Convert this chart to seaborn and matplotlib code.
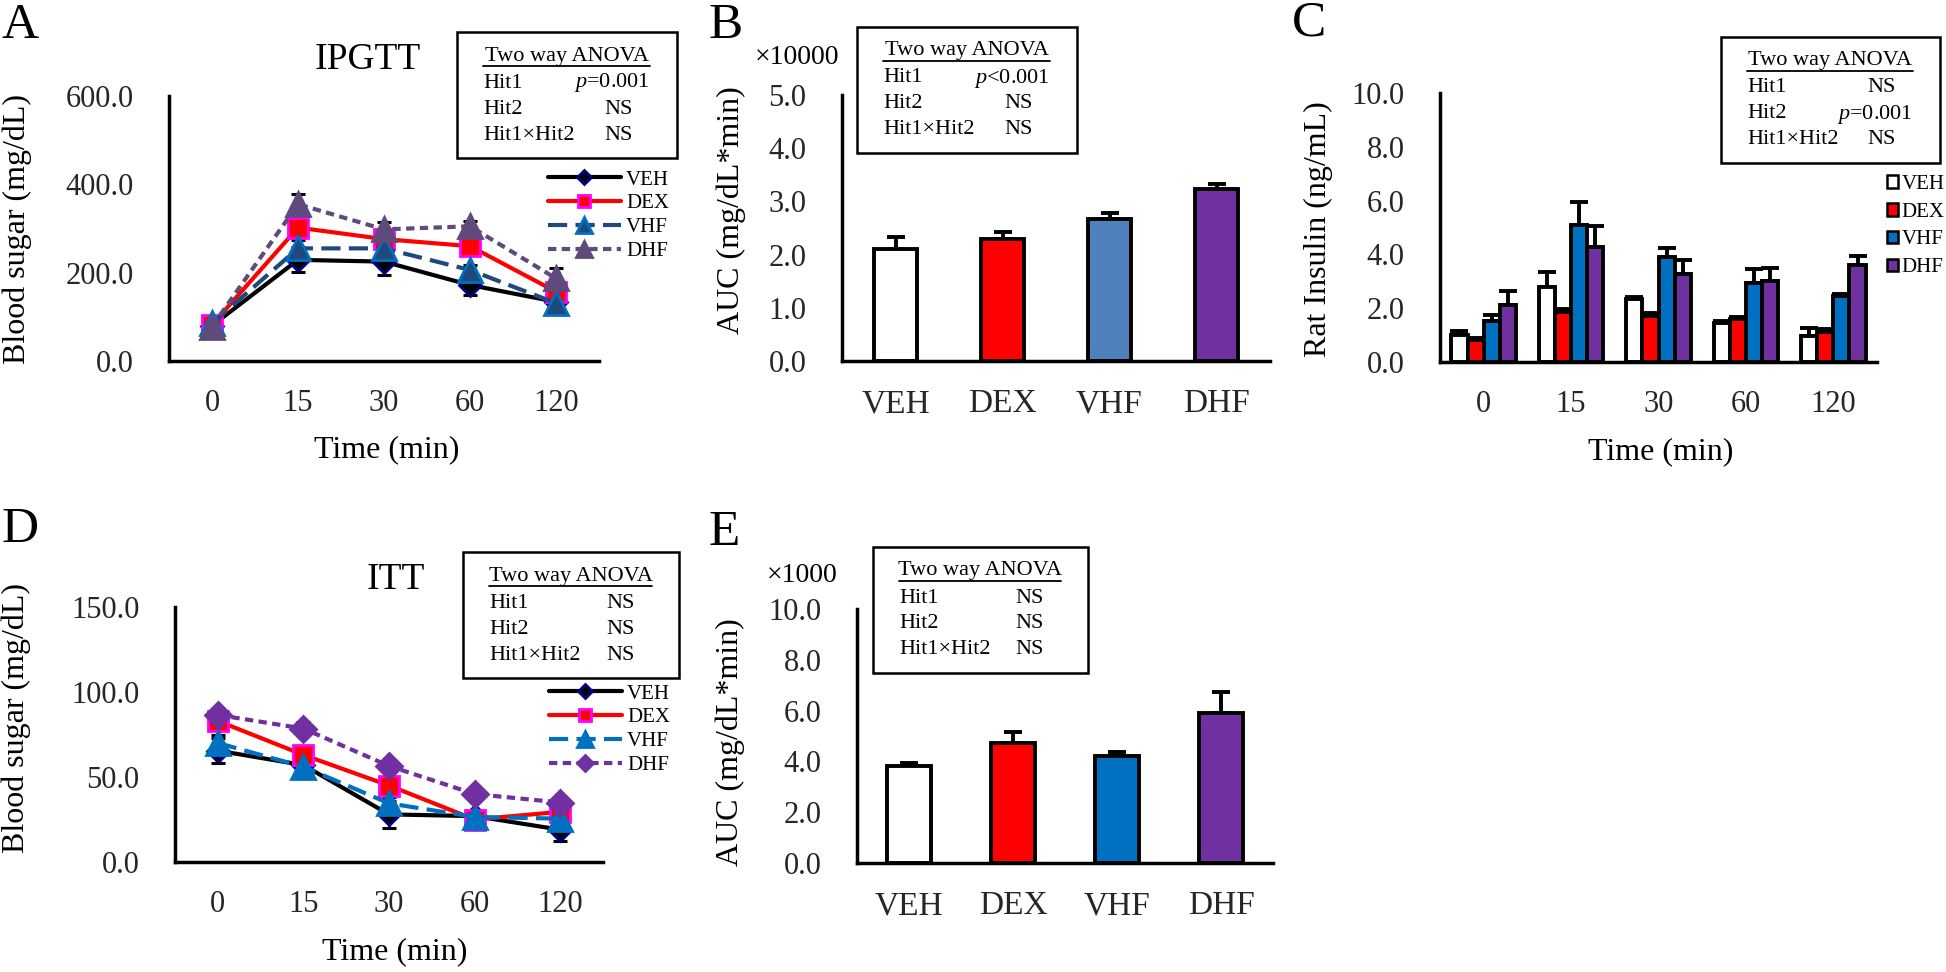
import numpy as np
import pandas as pd
import matplotlib.pyplot as plt
import seaborn as sns
from matplotlib.lines import Line2D
from matplotlib.patches import Rectangle, Patch

times = ["0", "15", "30", "60", "120"]
groups = ["VEH", "DEX", "VHF", "DHF"]

# A: IPGTT blood sugar (mg/dL)
ipgtt_veh = [80, 229, 225, 172, 134]
ipgtt_dex = [82, 302, 276, 260, 157]
ipgtt_vhf = [85, 255, 255, 206, 131]
ipgtt_dhf = [78, 355, 298, 305, 187]
ipgtt_veh_err = [5, 28, 30, 23, 8]
ipgtt_dex_err = [6, 15, 12, 15, 12]
ipgtt_vhf_err = [5, 19, 15, 12, 8]
ipgtt_dhf_err = [5, 22, 17, 12, 24]

# B: IPGTT AUC (x10000)
auc_gtt = [2.10, 2.29, 2.67, 3.23]
auc_gtt_err = [0.23, 0.14, 0.12, 0.10]

# C: rat insulin (ng/mL)
ins_veh = [0.99, 2.77, 2.36, 1.45, 0.96]
ins_dex = [0.81, 1.85, 1.72, 1.58, 1.12]
ins_vhf = [1.53, 5.09, 3.89, 2.94, 2.45]
ins_dhf = [2.11, 4.29, 3.27, 3.02, 3.60]
ins_veh_err = [0.15, 0.56, 0.06, 0.08, 0.31]
ins_dex_err = [0.10, 0.12, 0.10, 0.10, 0.12]
ins_vhf_err = [0.21, 0.87, 0.33, 0.50, 0.07]
ins_dhf_err = [0.52, 0.77, 0.52, 0.46, 0.34]

# D: ITT blood sugar (mg/dL)
itt_veh = [65.5, 57, 28, 27, 19]
itt_dex = [83, 63, 45, 25, 29.5]
itt_vhf = [70, 56, 34.5, 26.5, 25.5]
itt_dhf = [86.5, 78.5, 56.5, 40, 35]
itt_veh_err = [7.5, 3, 8, 2, 6.5]
itt_dex_err = [4, 4, 4, 3, 3]
itt_vhf_err = [5, 3, 4, 3, 3]
itt_dhf_err = [3, 4, 3, 3, 3]

# E: ITT AUC (x1000)
auc_itt = [3.82, 4.74, 4.23, 5.91]
auc_itt_err = [0.10, 0.42, 0.13, 0.83]

sns.set_theme(style="white")
plt.rcParams["font.family"] = ["Liberation Serif", "DejaVu Serif"]
plt.rcParams["mathtext.fontset"] = "custom"
plt.rcParams["mathtext.rm"] = "Liberation Serif"
plt.rcParams["mathtext.it"] = "Liberation Serif:italic"
plt.rcParams["text.color"] = "black"

W, H = 1946, 972
fig = plt.figure(figsize=(W / 100, H / 100), dpi=100)
fig.patch.set_facecolor("white")


def fx(x):
    return x / W


def fy(y):
    return 1 - y / H


def make_axes(left, top, right, bottom):
    return fig.add_axes([fx(left), fy(bottom), (right - left) / W, (bottom - top) / H])


def style_axis(ax, yticks, labels, xsize):
    n = len(labels)
    ax.set_ylim(yticks[0], yticks[-1])
    ax.set_yticks(yticks)
    ax.set_yticklabels([f"{t:.1f}" for t in yticks])
    ax.set_xlim(-0.5, n - 0.5)
    ax.set_xticks(np.arange(n))
    ax.set_xticklabels(labels)
    ax.set_xticks(np.arange(n + 1) - 0.5, minor=True)
    ax.tick_params(axis="x", which="major", length=0, pad=20, labelsize=xsize)
    ax.tick_params(axis="x", which="minor", length=6.5, width=2.5, direction="out", color="black")
    ax.tick_params(axis="y", length=6.5, width=2.5, direction="out", pad=19, labelsize=22, color="black")
    for s in ["top", "right"]:
        ax.spines[s].set_visible(False)
    for s in ["left", "bottom"]:
        ax.spines[s].set_linewidth(2.5)
        ax.spines[s].set_color("black")
    ax.set_xlabel("")
    ax.set_ylabel("")
    ax.set_facecolor("none")


def anova_box(left, top, right, values):
    h = 126
    fig.add_artist(Rectangle((fx(left), fy(top + h)), (right - left) / W, h / H,
                             transform=fig.transFigure, fill=False, lw=1.8, ec="black"))
    fig.text(fx((left + right) / 2), fy(top + 24), "Two way ANOVA", ha="center", va="center", fontsize=16)
    fig.add_artist(Line2D([fx(left + 26), fx(right - 27)], [fy(top + 34)] * 2,
                          transform=fig.transFigure, lw=1.3, color="black"))
    for i, (name, val) in enumerate(zip(["Hit1", "Hit2", "Hit1×Hit2"], values)):
        y = fy(top + 51 + 26 * i)
        fig.text(fx(left + 26), y, name, ha="left", va="center", fontsize=16)
        if val == "NS":
            fig.text(fx(right - 58), y, val, ha="center", va="center", fontsize=16)
        else:
            fig.text(fx(right - 27), y, val, ha="right", va="center", fontsize=16)


def line_panel(ax, series, errs, styles):
    for name, vals, err, st in zip(groups, series, errs, styles):
        sns.pointplot(x=times, y=vals, ax=ax, errorbar=None, color=st["color"],
                      markers=st["marker"], linestyles=st["ls"], markersize=st["ms"],
                      markerfacecolor=st["mfc"], markeredgecolor=st["mec"], markeredgewidth=2,
                      linewidth=3, label=name)
        xs = ax.lines[-1].get_xdata()
        ax.errorbar(xs, vals, yerr=err, fmt="none", ecolor="black", elinewidth=2.2,
                    capsize=5, capthick=2.2, zorder=1.5)


def bar_errors(ax, container, err):
    xs = [p.get_x() + p.get_width() / 2 for p in container]
    ys = [p.get_height() for p in container]
    ax.errorbar(xs, ys, yerr=[np.zeros(len(err)), err], fmt="none", ecolor="black",
                elinewidth=2.8, capsize=6.5, capthick=2.8, zorder=0.9)


# ---------- A ----------
axA = make_axes(169, 96, 599, 361)
styles_a = [
    dict(color="black", marker="D", ls="-", ms=11, mfc="black", mec="#000080"),
    dict(color="#FF0000", marker="s", ls="-", ms=14, mfc="#FF0000", mec="#FF00FF"),
    dict(color="#1F497D", marker="^", ls=(0, (4.6, 2)), ms=17, mfc="#1F497D", mec="#0070C0"),
    dict(color="#604A7B", marker="^", ls=(0, (2, 1.3)), ms=17, mfc="#604A7B", mec="#604A7B"),
]
line_panel(axA, [ipgtt_veh, ipgtt_dex, ipgtt_vhf, ipgtt_dhf],
           [ipgtt_veh_err, ipgtt_dex_err, ipgtt_vhf_err, ipgtt_dhf_err], styles_a)
style_axis(axA, [0, 200, 400, 600], times, 22)
axA.legend(loc="upper left", bbox_to_anchor=(fx(548), fy(170)), bbox_transform=fig.transFigure,
           frameon=False, fontsize=15, handlelength=3.5, handletextpad=0.25, labelspacing=0.2,
           borderpad=0, borderaxespad=0, markerscale=0.65)
anova_box(457, 32, 677, ["$p$=0.001", "NS", "NS"])
fig.text(fx(2), fy(2), "A", ha="left", va="top", fontsize=37)
fig.text(fx(368), fy(60), "IPGTT", ha="center", va="center", fontsize=27)
fig.text(fx(17), fy(229), "Blood sugar (mg/dL)", rotation=90, ha="center", va="center", fontsize=23)
fig.text(fx(387), fy(450), "Time (min)", ha="center", va="center", fontsize=23)

# ---------- B ----------
axB = make_axes(842, 95, 1270, 361)
pal_b = dict(zip(groups, ["white", "#FF0000", "#4F81BD", "#7030A0"]))
sns.barplot(x=groups, y=auc_gtt, hue=groups, palette=pal_b, saturation=1, legend=False, width=0.41,
            edgecolor="black", linewidth=2.8, ax=axB)
bar_errors(axB, axB.patches, auc_gtt_err)
style_axis(axB, [0, 1, 2, 3, 4, 5], groups, 24)
anova_box(857, 27, 1077, ["$p$<0.001", "NS", "NS"])
fig.text(fx(709), fy(2), "B", ha="left", va="top", fontsize=37)
fig.text(fx(797), fy(57), "×10000", ha="center", va="center", fontsize=20)
fig.text(fx(731), fy(210), "AUC (mg/dL*min)", rotation=90, ha="center", va="center", fontsize=23)

# ---------- C ----------
axC = make_axes(1440, 93, 1877, 362)
pal_c = dict(zip(groups, ["white", "#FF0000", "#0070C0", "#7030A0"]))
df_c = pd.DataFrame({
    "time": times * 4,
    "group": np.repeat(groups, len(times)),
    "value": ins_veh + ins_dex + ins_vhf + ins_dhf,
})
sns.barplot(data=df_c, x="time", y="value", hue="group", order=times, hue_order=groups,
            palette=pal_c, saturation=1, width=0.74, edgecolor="black", linewidth=2.8,
            legend=False, ax=axC)
for cont, err in zip(axC.containers, [ins_veh_err, ins_dex_err, ins_vhf_err, ins_dhf_err]):
    bar_errors(axC, cont, err)
style_axis(axC, [0, 2, 4, 6, 8, 10], times, 22)
handles = [Patch(facecolor=pal_c[g], edgecolor="black", linewidth=1.8) for g in groups]
axC.legend(handles, groups, loc="upper left", bbox_to_anchor=(fx(1887), fy(175)),
           bbox_transform=fig.transFigure, frameon=False, fontsize=15, handlelength=0.55,
           handleheight=0.55, handletextpad=0.15, labelspacing=0.42, borderpad=0, borderaxespad=0)
anova_box(1721, 37, 1940, ["NS", "$p$=0.001", "NS"])
fig.text(fx(1292), fy(0), "C", ha="left", va="top", fontsize=37)
fig.text(fx(1318), fy(229), "Rat Insulin (ng/mL)", rotation=90, ha="center", va="center", fontsize=23)
fig.text(fx(1661), fy(452), "Time (min)", ha="center", va="center", fontsize=23)

# ---------- D ----------
axD = make_axes(175, 607, 603, 862)
styles_d = [
    dict(color="black", marker="D", ls="-", ms=11, mfc="black", mec="#000080"),
    dict(color="#FF0000", marker="s", ls="-", ms=14, mfc="#FF0000", mec="#FF00FF"),
    dict(color="#0070C0", marker="^", ls=(0, (4.6, 2)), ms=17, mfc="#0070C0", mec="#0070C0"),
    dict(color="#7030A0", marker="D", ls=(0, (2, 1.3)), ms=13, mfc="#7030A0", mec="#7030A0"),
]
line_panel(axD, [itt_veh, itt_dex, itt_vhf, itt_dhf],
           [itt_veh_err, itt_dex_err, itt_vhf_err, itt_dhf_err], styles_d)
style_axis(axD, [0, 50, 100, 150], times, 22)
axD.legend(loc="upper left", bbox_to_anchor=(fx(549), fy(684)), bbox_transform=fig.transFigure,
           frameon=False, fontsize=15, handlelength=3.5, handletextpad=0.25, labelspacing=0.2,
           borderpad=0, borderaxespad=0, markerscale=0.65)
anova_box(463, 552, 679, ["NS", "NS", "NS"])
fig.text(fx(2), fy(507), "D", ha="left", va="top", fontsize=37)
fig.text(fx(396), fy(580), "ITT", ha="center", va="center", fontsize=27)
fig.text(fx(16), fy(718), "Blood sugar (mg/dL)", rotation=90, ha="center", va="center", fontsize=23)
fig.text(fx(395), fy(952), "Time (min)", ha="center", va="center", fontsize=23)

# ---------- E ----------
axE = make_axes(857, 609, 1273, 863)
sns.barplot(x=groups, y=auc_itt, hue=groups, palette=pal_c, saturation=1, legend=False, width=0.42,
            edgecolor="black", linewidth=2.8, ax=axE)
bar_errors(axE, axE.patches, auc_itt_err)
style_axis(axE, [0, 2, 4, 6, 8, 10], groups, 24)
anova_box(873, 547, 1088, ["NS", "NS", "NS"])
fig.text(fx(709), fy(509), "E", ha="left", va="top", fontsize=37)
fig.text(fx(802), fy(575), "×1000", ha="center", va="center", fontsize=20)
fig.text(fx(730), fy(742), "AUC (mg/dL*min)", rotation=90, ha="center", va="center", fontsize=23)

fig.savefig("out.png", dpi=100)
